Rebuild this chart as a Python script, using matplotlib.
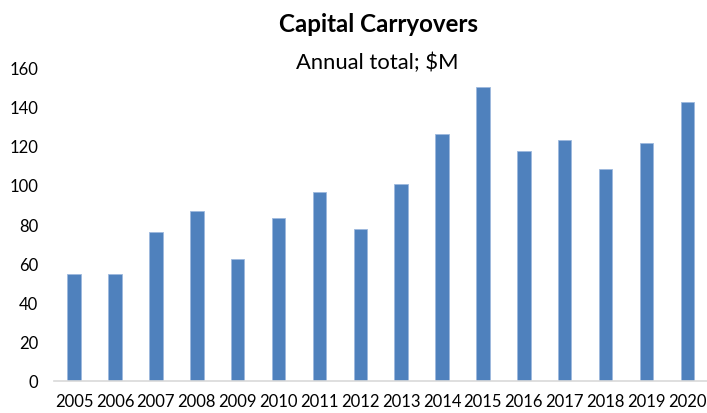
import matplotlib.pyplot as plt

years = ['2005', '2006', '2007', '2008', '2009', '2010', '2011', '2012',
         '2013', '2014', '2015', '2016', '2017', '2018', '2019', '2020']
carryovers = [54.5, 54.5, 76, 86.7, 62, 82.9, 96.2, 77.6,
              100.6, 126, 149.9, 117.2, 123, 108.1, 121.6, 142.4]
yticks = [0, 20, 40, 60, 80, 100, 120, 140, 160]

plt.rcParams['font.family'] = ['Lato', 'DejaVu Sans']

fig = plt.figure(figsize=(7.07, 4.14), dpi=100)
ax = fig.add_axes([0.076, 0.0785, 0.925, 0.756])

ax.bar(years, carryovers, width=0.33, color='#4F81BD', edgecolor='#9DB9DD', linewidth=0.6)
ax.set_ylim(0, 160)
ax.set_xlim(-0.5, len(years) - 0.5)
ax.set_yticks(yticks)

# only a light baseline, no frame or tick marks
for side in ['top', 'right', 'left']:
    ax.spines[side].set_visible(False)
ax.spines['bottom'].set_color('#D9D9D9')
ax.spines['bottom'].set_linewidth(1.2)
ax.tick_params(axis='both', length=0, labelsize=12, colors='black')
ax.tick_params(axis='x', pad=9)
ax.tick_params(axis='y', pad=11)

fig.text(0.535, 0.94, 'Capital Carryovers', ha='center', va='center',
         fontsize=17.4, fontweight='bold')
fig.text(0.534, 0.848, 'Annual total; $M', ha='center', va='center', fontsize=15.8)

fig.savefig('out.png', dpi=100)
